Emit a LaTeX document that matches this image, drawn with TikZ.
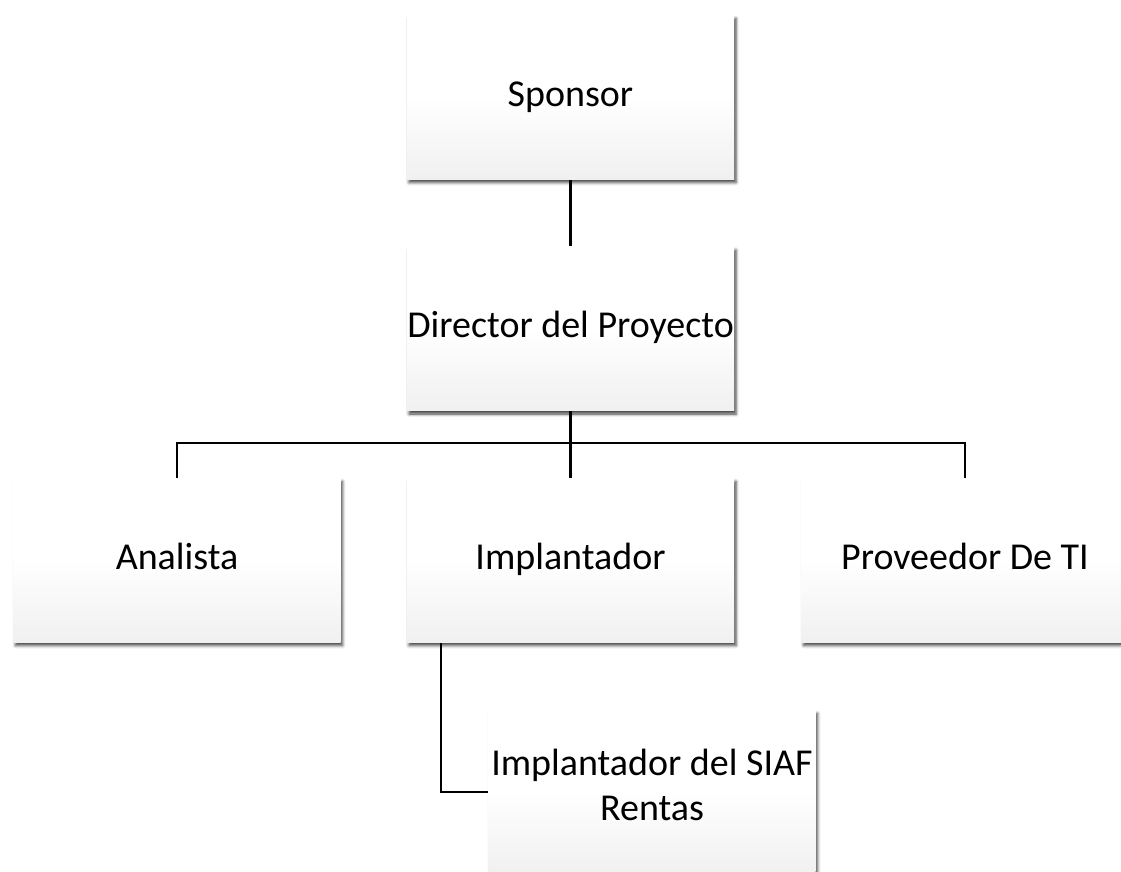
\documentclass[tikz,border=0pt]{standalone}
\usepackage{fontspec}
\setmainfont{Carlito}
\usetikzlibrary{shadows.blur}

\pgfdeclarelayer{links}
\pgfsetlayers{links,main}

% white upper half fading to light grey at the bottom edge
\pgfdeclareverticalshading{boxfill}{100bp}{%
  color(0bp)=(black!12); color(20bp)=(black!7); color(50bp)=(white); color(100bp)=(white)}

\tikzset{
  orgbox/.style={rectangle, minimum width=327pt, minimum height=164pt,
    inner sep=0pt, align=center, shading=boxfill, shading angle=0,
    font=\fontsize{38}{45}\selectfont, execute at begin node=\strut,
    blur shadow={shadow xshift=2pt, shadow yshift=-3.5pt,
      shadow blur radius=3pt, shadow opacity=75}},
  link/.style={draw=black, line width=2.9pt}
}

\begin{document}
\begin{tikzpicture}[x=1pt, y=-1pt]
  \useasboundingbox (0,0) rectangle (1121,871);
  \clip (0,0) rectangle (1121,871);

  \node[orgbox] (sponsor)   at (570.5,97)    {Sponsor};
  \node[orgbox] (director)  at (570.5,328.5) {Director del Proyecto};
  \node[orgbox] (analista)  at (177,560)     {Analista};
  \node[orgbox] (implant)   at (570.5,560)   {Implantador};
  \node[orgbox] (proveedor) at (965,560)     {Proveedor De TI};
  \node[orgbox] (siaf)      at (652,792)     {Implantador del SIAF\\Rentas\strut};

  % branch point of the lower row and the side drop to the SIAF box
  \coordinate (bus)  at (570.5,443);
  \coordinate (drop) at (441,0);

  \begin{pgfonlayer}{links}
    \draw[link] (sponsor.south) -- (director.north);
    \draw[link] (director.south) -- (bus);
    \draw[link] (analista.north) |- (bus) -| (proveedor.north);
    \draw[link] (bus) -- (implant.north);
    \draw[link] (implant.south -| drop) |- (siaf.west);
  \end{pgfonlayer}
\end{tikzpicture}
\end{document}
